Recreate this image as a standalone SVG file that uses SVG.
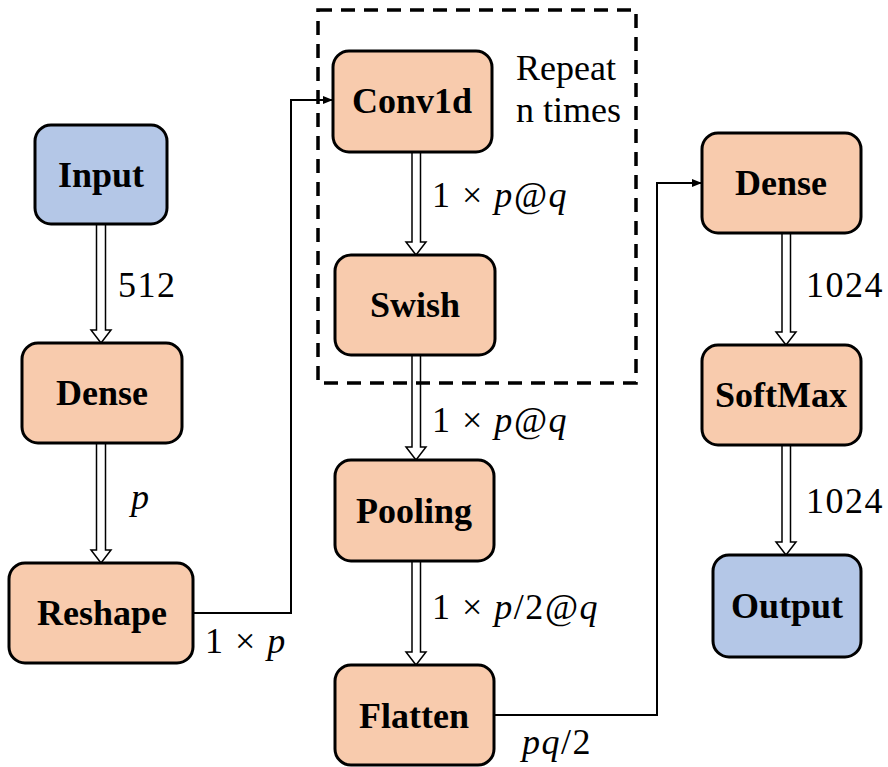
<svg xmlns="http://www.w3.org/2000/svg" width="888" height="767" viewBox="0 0 888 767">
<defs>
<style>
.box{stroke:#000;stroke-width:3}
.o{fill:#F8CBAD}
.b{fill:#B4C7E7}
.lbl{font-family:"Liberation Serif",serif;font-weight:bold;font-size:36px;fill:#000;text-anchor:middle}
.r{font-family:"Liberation Serif",serif;font-size:36px;fill:#000}
.t{font-family:"Liberation Serif","DejaVu Serif",serif;font-size:36px;letter-spacing:1.5px;fill:#000}
.i{font-style:italic}
.ha{fill:#fff;stroke:#000;stroke-width:1.5;stroke-linejoin:miter}
.ln{fill:none;stroke:#000;stroke-width:2}
</style>
<marker id="ah" markerWidth="10" markerHeight="10" refX="9" refY="5" orient="auto" markerUnits="userSpaceOnUse">
<path d="M0,1 L10,5 L0,9 Z" fill="#000"/>
</marker>
</defs>
<rect width="888" height="767" fill="#fff"/>

<g id="connectors">
<path class="ha" d="M96.5,224 V330 H91 L101,343 L111,330 H105.5 V224"/>
<path class="ha" d="M96.5,443 V550 H91 L101,563 L111,550 H105.5 V443"/>
<path class="ha" d="M412,152 V242 H406 L416,255 L426,242 H420.5 V152"/>
<path class="ha" d="M412,355 V447 H406 L416,460 L426,447 H420.5 V355"/>
<path class="ha" d="M412,561 V652 H406 L416,665 L426,652 H420.5 V561"/>
<path class="ha" d="M782,233 V332 H776 L786,345 L796,332 H790.5 V233"/>
<path class="ha" d="M782,445 V542 H776 L786,555 L796,542 H790.5 V445"/>
<path class="ln" d="M193,613 H291 V100 H332" marker-end="url(#ah)"/>
<path class="ln" d="M494,715 H657 V183 H701" marker-end="url(#ah)"/>
</g>

<rect x="318" y="10" width="318" height="373" fill="none" stroke="#000" stroke-width="3.5" stroke-dasharray="14,9"/>

<g id="input"><rect class="box b" x="35" y="125" width="132" height="99" rx="16"/><text class="lbl" x="101" y="187">Input</text></g>
<g id="dense1"><rect class="box o" x="22" y="343" width="160" height="100" rx="16"/><text class="lbl" x="102" y="405">Dense</text></g>
<g id="reshape"><rect class="box o" x="9" y="563" width="184" height="100" rx="16"/><text class="lbl" x="102" y="625">Reshape</text></g>
<g id="conv1d"><rect class="box o" x="333" y="51" width="159" height="101" rx="16"/><text class="lbl" x="412" y="113">Conv1d</text></g>
<g id="swish"><rect class="box o" x="335" y="255" width="160" height="100" rx="16"/><text class="lbl" x="415" y="317">Swish</text></g>
<g id="pooling"><rect class="box o" x="335" y="460" width="159" height="101" rx="16"/><text class="lbl" x="414" y="523">Pooling</text></g>
<g id="flatten"><rect class="box o" x="335" y="665" width="159" height="100" rx="16"/><text class="lbl" x="414" y="728">Flatten</text></g>
<g id="dense2"><rect class="box o" x="702" y="133" width="159" height="100" rx="16"/><text class="lbl" x="781" y="195">Dense</text></g>
<g id="softmax"><rect class="box o" x="702" y="345" width="159" height="100" rx="16"/><text class="lbl" x="781" y="407">SoftMax</text></g>
<g id="output"><rect class="box b" x="713" y="555" width="148" height="102" rx="16"/><text class="lbl" x="787" y="618">Output</text></g>

<g id="labels">
<text class="r" x="516" y="80">Repeat</text>
<text class="r" x="516" y="122">n times</text>
<text class="t" x="118" y="297">512</text>
<text class="t i" x="131" y="509">p</text>
<text class="t" x="205" y="653">1 × <tspan class="i">p</tspan></text>
<text class="t" x="432" y="207">1 × <tspan class="i">p@q</tspan></text>
<text class="t" x="432" y="432">1 × <tspan class="i">p@q</tspan></text>
<text class="t" x="432" y="619">1 × <tspan class="i">p</tspan>/2<tspan class="i">@q</tspan></text>
<text class="t" x="522" y="754"><tspan class="i">pq</tspan>/2</text>
<text class="t" x="806" y="297">1024</text>
<text class="t" x="806" y="513">1024</text>
</g>
</svg>
